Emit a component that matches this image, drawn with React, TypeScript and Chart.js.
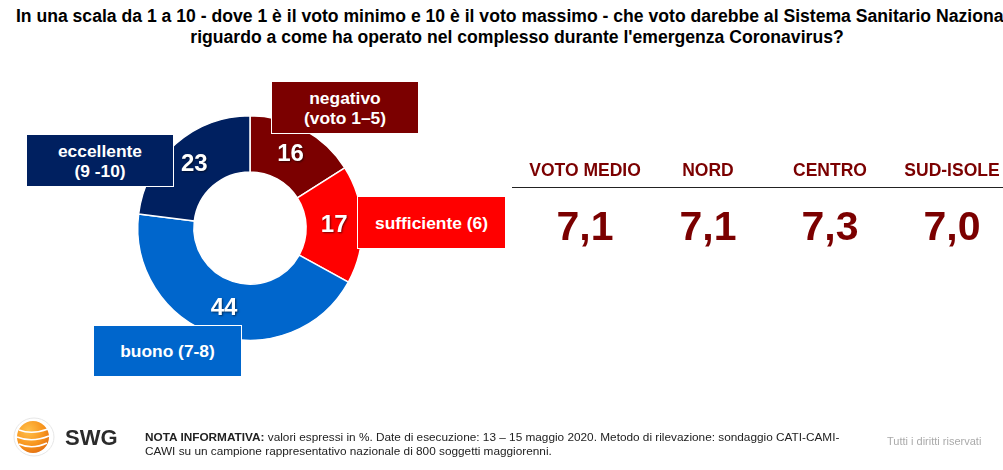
import React, { useEffect, useRef } from "react";
import { Chart, registerables } from "chart.js";

Chart.register(...registerables);

const titleLines = [
  "In una scala da 1 a 10 - dove 1 è il voto minimo e 10 è il voto massimo - che voto darebbe al Sistema Sanitario Nazionale",
  "riguardo a come ha operato nel complesso durante l'emergenza Coronavirus?",
];

const categories = ["negativo (voto 1–5)", "sufficiente (6)", "buono (7-8)", "eccellente (9 -10)"];
const categoryLines = [
  ["negativo", "(voto 1–5)"],
  ["sufficiente (6)"],
  ["buono (7-8)"],
  ["eccellente", "(9 -10)"],
];
const shares = [16, 17, 44, 23];
const sliceColors = ["#7B0000", "#FF0000", "#0066CC", "#002060"];

const regionLabels = ["VOTO MEDIO", "NORD", "CENTRO", "SUD-ISOLE"];
const regionScores = [7.1, 7.1, 7.3, 7.0];

const noteLines = [
  "valori espressi in %. Date di esecuzione: 13 – 15 maggio 2020. Metodo di rilevazione: sondaggio CATI-CAMI-",
  "CAWI su un campione rappresentativo nazionale di 800 soggetti maggiorenni.",
];

const FONT = "'Liberation Sans', Arial, sans-serif";

const boxPos = [
  { left: 271, top: 81, width: 148, height: 53 },
  { left: 357, top: 196, width: 149, height: 53 },
  { left: 93, top: 325, width: 149, height: 52 },
  { left: 26, top: 134, width: 148, height: 53 },
];
const scoreX = [585, 708, 830, 952];

const valueLabelPlugin = {
  id: "valueLabels",
  afterDatasetsDraw(chart: any) {
    const ctx = chart.ctx;
    const meta = chart.getDatasetMeta(0);
    const data = chart.data.datasets[0].data;
    ctx.save();
    ctx.font = `bold 24px ${FONT}`;
    ctx.textAlign = "center";
    ctx.textBaseline = "middle";
    ctx.fillStyle = "#ffffff";
    ctx.shadowColor = "rgba(0,0,0,0.55)";
    ctx.shadowOffsetX = 1;
    ctx.shadowOffsetY = 1;
    ctx.shadowBlur = 2;
    meta.data.forEach((arc: any, i: number) => {
      const p = arc.tooltipPosition();
      ctx.fillText(String(data[i]), p.x, p.y);
    });
    ctx.restore();
  },
};

export default function App() {
  const canvasRef = useRef<HTMLCanvasElement>(null);

  useEffect(() => {
    const chart = new Chart(canvasRef.current as HTMLCanvasElement, {
      type: "doughnut",
      data: {
        labels: categories,
        datasets: [
          {
            data: shares,
            backgroundColor: sliceColors,
            borderColor: "#ffffff",
            borderWidth: 1.5,
          },
        ],
      },
      options: {
        responsive: false,
        maintainAspectRatio: false,
        animation: false,
        cutout: "50%",
        layout: { padding: { left: 137, right: 640, top: 115, bottom: 129 } },
        plugins: {
          legend: { display: false },
          tooltip: { enabled: false },
          title: { display: false },
        },
      },
      plugins: [valueLabelPlugin],
    });
    return () => chart.destroy();
  }, []);

  return (
    <div
      style={{
        position: "absolute",
        left: 0,
        top: 0,
        width: 1003,
        height: 470,
        overflow: "hidden",
        background: "#ffffff",
        fontFamily: FONT,
      }}
    >
      {titleLines.map((t, i) => (
        <div
          key={i}
          style={{
            position: "absolute",
            left: -93,
            width: 1220,
            top: 6 + i * 21,
            textAlign: "center",
            whiteSpace: "nowrap",
            fontWeight: "bold",
            fontSize: 17.6,
            lineHeight: "21px",
            color: "#000",
          }}
        >
          {t}
        </div>
      ))}

      <canvas
        ref={canvasRef}
        width={1003}
        height={470}
        style={{ position: "absolute", left: 0, top: 0, width: 1003, height: 470 }}
      />

      {categoryLines.map((lines, i) => (
        <div
          key={i}
          style={{
            position: "absolute",
            left: boxPos[i].left,
            top: boxPos[i].top,
            width: boxPos[i].width,
            height: boxPos[i].height,
            boxSizing: "border-box",
            background: sliceColors[i],
            border: "1px solid #ffffff",
            color: "#ffffff",
            fontWeight: "bold",
            fontSize: 17.4,
            lineHeight: "20px",
            display: "flex",
            flexDirection: "column",
            justifyContent: "center",
            alignItems: "center",
            textAlign: "center",
            whiteSpace: "nowrap",
          }}
        >
          {lines.map((l, j) => (
            <div key={j}>{l}</div>
          ))}
        </div>
      ))}

      <div
        style={{
          position: "absolute",
          left: 512,
          top: 187,
          width: 491,
          height: 0,
          borderTop: "1.5px solid #222",
        }}
      />
      {regionLabels.map((r, i) => (
        <div
          key={r}
          style={{
            position: "absolute",
            left: scoreX[i] - 70,
            width: 140,
            top: 160,
            textAlign: "center",
            fontWeight: "bold",
            fontSize: 17.5,
            lineHeight: "20px",
            color: "#7B0000",
            whiteSpace: "nowrap",
          }}
        >
          {r}
        </div>
      ))}
      {regionScores.map((s, i) => (
        <div
          key={i}
          style={{
            position: "absolute",
            left: scoreX[i] - 70,
            width: 140,
            top: 203,
            textAlign: "center",
            fontWeight: "bold",
            fontSize: 41,
            lineHeight: "46px",
            color: "#7B0000",
          }}
        >
          {s.toFixed(1).replace(".", ",")}
        </div>
      ))}

      <svg
        width={44}
        height={44}
        viewBox="0 0 44 44"
        style={{ position: "absolute", left: 12, top: 415 }}
      >
        <defs>
          <radialGradient id="sg" cx="0.35" cy="0.3" r="0.8">
            <stop offset="0" stopColor="#FFC04A" />
            <stop offset="0.6" stopColor="#F7941D" />
            <stop offset="1" stopColor="#E06A10" />
          </radialGradient>
        </defs>
        <ellipse cx="22" cy="22" rx="20" ry="19" fill="none" stroke="#e6e6e6" strokeWidth="1" />
        <circle cx="21" cy="22" r="16" fill="url(#sg)" />
        <path d="M7 15 Q20 20 36 14" stroke="#fff" strokeWidth="1.6" fill="none" />
        <path d="M5 22 Q20 28 37 21" stroke="#fff" strokeWidth="1.6" fill="none" />
        <path d="M7 29 Q20 35 35 28" stroke="#fff" strokeWidth="1.6" fill="none" />
      </svg>
      <div
        style={{
          position: "absolute",
          left: 65,
          top: 425,
          fontWeight: "bold",
          fontSize: 22,
          lineHeight: "26px",
          color: "#2b2b2b",
        }}
      >
        SWG
      </div>

      <div
        style={{
          position: "absolute",
          left: 145,
          top: 430,
          fontSize: 11.8,
          lineHeight: "14px",
          color: "#222",
          whiteSpace: "nowrap",
        }}
      >
        <div>
          <b>NOTA INFORMATIVA:</b> {noteLines[0]}
        </div>
        <div>{noteLines[1]}</div>
      </div>
      <div
        style={{
          position: "absolute",
          left: 887,
          top: 434,
          fontSize: 11,
          lineHeight: "14px",
          color: "#aaaaaa",
          whiteSpace: "nowrap",
        }}
      >
        Tutti i diritti riservati
      </div>
    </div>
  );
}
